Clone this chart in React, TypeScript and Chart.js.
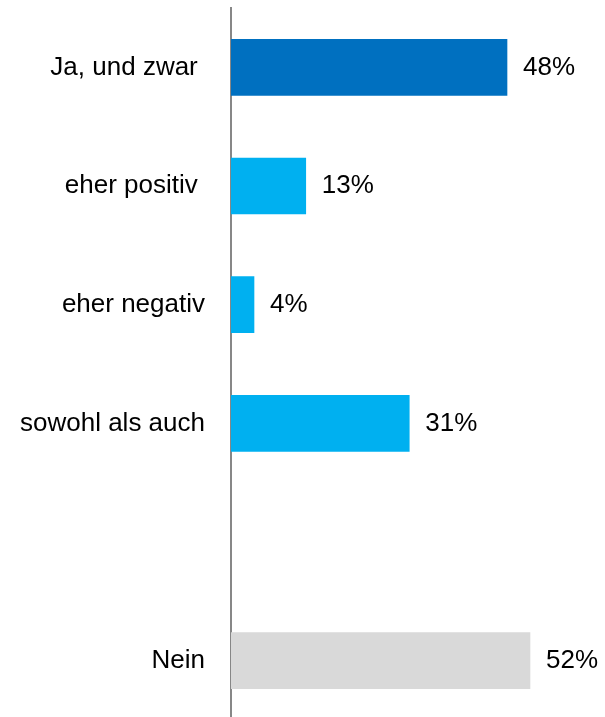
import React, { useEffect, useRef } from "react";
import { Chart, registerables } from "chart.js";

Chart.register(...registerables);

const categories = ["Ja, und zwar ", "eher positiv ", "eher negativ", "sowohl als auch", "", "Nein"];
const values: (number | null)[] = [48, 13, 4, 31, null, 52];
const valueLabels = ["48%", "13%", "4%", "31%", "", "52%"];
const barColors = ["#0070C0", "#00B0F0", "#00B0F0", "#00B0F0", "#00B0F0", "#D9D9D9"];

const FONT = "'Liberation Sans', Arial, Helvetica, sans-serif";

const valueLabelPlugin = {
  id: "valueLabels",
  afterDatasetsDraw(chart: any) {
    const ctx = chart.ctx;
    const meta = chart.getDatasetMeta(0);
    ctx.save();
    ctx.font = `26px ${FONT}`;
    ctx.fillStyle = "#000000";
    ctx.textAlign = "left";
    ctx.textBaseline = "middle";
    meta.data.forEach((el: any, i: number) => {
      if (values[i] == null) return;
      ctx.fillText(valueLabels[i], el.x + 16, el.y);
    });
    ctx.restore();
  },
};

export default function App() {
  const ref = useRef<HTMLCanvasElement | null>(null);
  useEffect(() => {
    if (!ref.current) return;
    const chart = new Chart(ref.current, {
      type: "bar",
      data: {
        labels: categories,
        datasets: [
          {
            data: values as any,
            backgroundColor: barColors,
            barThickness: 56,
            borderWidth: 0,
          },
        ],
      },
      options: {
        indexAxis: "y",
        responsive: false,
        animation: false,
        layout: { padding: { top: 8, right: 29, bottom: 0, left: 0 } },
        plugins: {
          legend: { display: false },
          tooltip: { enabled: false },
        },
        scales: {
          x: {
            display: false,
            min: 0,
            max: 60,
          },
          y: {
            grid: { display: false, drawTicks: false },
            border: { display: true, color: "#878787", width: 2 },
            ticks: {
              color: "#000000",
              padding: 26,
              font: { family: FONT, size: 26 },
            },
            afterFit(scale: any) {
              scale.width = 231;
              scale.paddingTop = 0;
              scale.paddingBottom = 0;
            },
          },
        },
      },
      plugins: [valueLabelPlugin],
    });
    return () => chart.destroy();
  }, []);
  return (
    <div style={{ position: "absolute", left: 0, top: 0, width: 605, height: 717, overflow: "hidden", background: "#fff" }}>
      <canvas ref={ref} width={605} height={720} style={{ width: 605, height: 720, display: "block" }} />
    </div>
  );
}
